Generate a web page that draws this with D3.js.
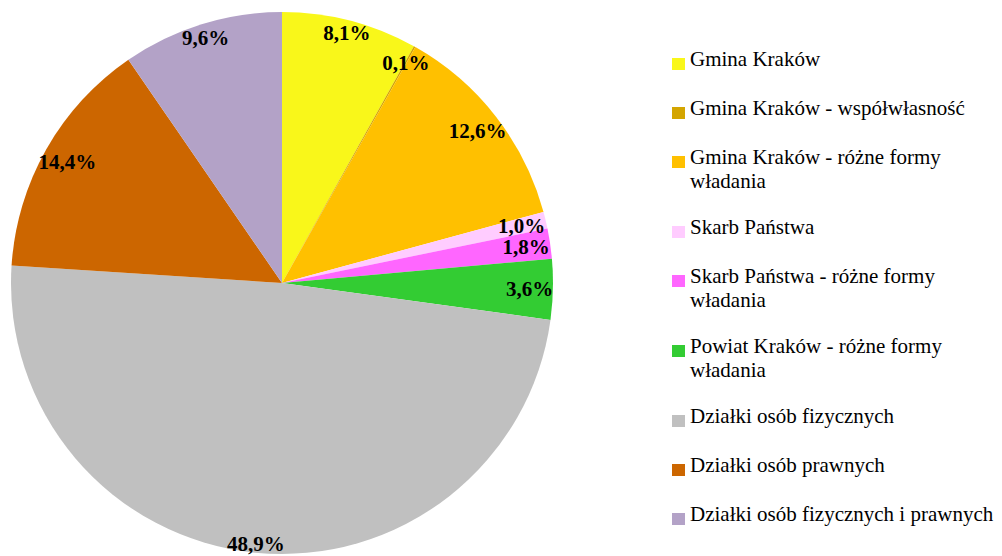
<!DOCTYPE html>
<html>
<head>
<meta charset="utf-8">
<script src="https://cdn.jsdelivr.net/npm/d3@7"></script>
<style>
  body { margin: 0; background: #fff; }
  svg { display: block; }
</style>
</head>
<body>
<svg width="1002" height="556"></svg>
<script>
const categories = [
  "Gmina Kraków",
  "Gmina Kraków - współwłasność",
  "Gmina Kraków - różne formy|władania",
  "Skarb Państwa",
  "Skarb Państwa - różne formy|władania",
  "Powiat Kraków - różne formy|władania",
  "Działki osób fizycznych",
  "Działki osób prawnych",
  "Działki osób fizycznych i prawnych"
]
const values = [8.1, 0.1, 12.6, 1.0, 1.8, 3.6, 48.9, 14.4, 9.6]
const colors = ["#f9f71a", "#d4a500", "#ffc000", "#ffccff", "#ff66ff", "#33cc33", "#c0c0c0", "#cc6600", "#b3a2c7"]

const svg = d3.select("svg"),
      cx = 282, cy = 283, R = 271,
      font = "'Liberation Serif', 'Times New Roman', serif",
      fmt = (v) => d3.format(".1f")(v).replace(".", ",") + "%"

const data = categories.map((c, i) => ({name: c, value: values[i], color: colors[i]}))

const pie = d3.pie().sort(null).value((d) => d.value)
const arc = d3.arc().innerRadius(0).outerRadius(R)
const arcs = pie(data)

const g = svg.append("g").attr("transform", `translate(${cx},${cy})`)

g.selectAll(".slice")
    .data(arcs)
  .enter().append("path")
    .attr("d", arc)
    .style("fill", (d) => d.data.color)

// labels at "inside end": push box out until its far corner reaches the rim
const hw = 28, hh = 10
function fitRadius(a) {
  const sx = Math.sin(a), sy = -Math.cos(a)
  let r = R
  for (let k = 0; k < 60; k++) {
    const dx = Math.abs(r * sx) + hw, dy = Math.abs(r * sy) + hh
    r -= (Math.sqrt(dx * dx + dy * dy) - (R + 5)) * 0.5
  }
  return r
}

g.selectAll(".label")
    .data(arcs)
  .enter().append("text")
    .each(function(d) {
      const a = (d.startAngle + d.endAngle) / 2
      const r = fitRadius(a)
      d3.select(this)
        .attr("x", r * Math.sin(a))
        .attr("y", -r * Math.cos(a))
    })
    .attr("dy", "0.35em")
    .style("text-anchor", "middle")
    .style("font-family", font)
    .style("font-weight", "bold")
    .style("font-size", "21px")
    .style("fill", "#000")
    .text((d) => fmt(d.data.value))

// legend
const legend = svg.append("g")
let ly = 66
data.forEach(function(d) {
  const lines = d.name.split("|")
  const item = legend.append("g")
  item.append("rect")
    .attr("x", 672).attr("y", ly - 8)
    .attr("width", 13).attr("height", 12)
    .style("fill", d.color)
  const t = item.append("text")
    .style("font-family", font)
    .style("font-size", "21px")
    .style("fill", "#000")
  lines.forEach(function(l, i) {
    t.append("tspan").attr("x", 690).attr("y", ly + i * 23.5).text(l)
  })
  ly += lines.length > 1 ? 70 : 49
})
</script>
</body>
</html>
